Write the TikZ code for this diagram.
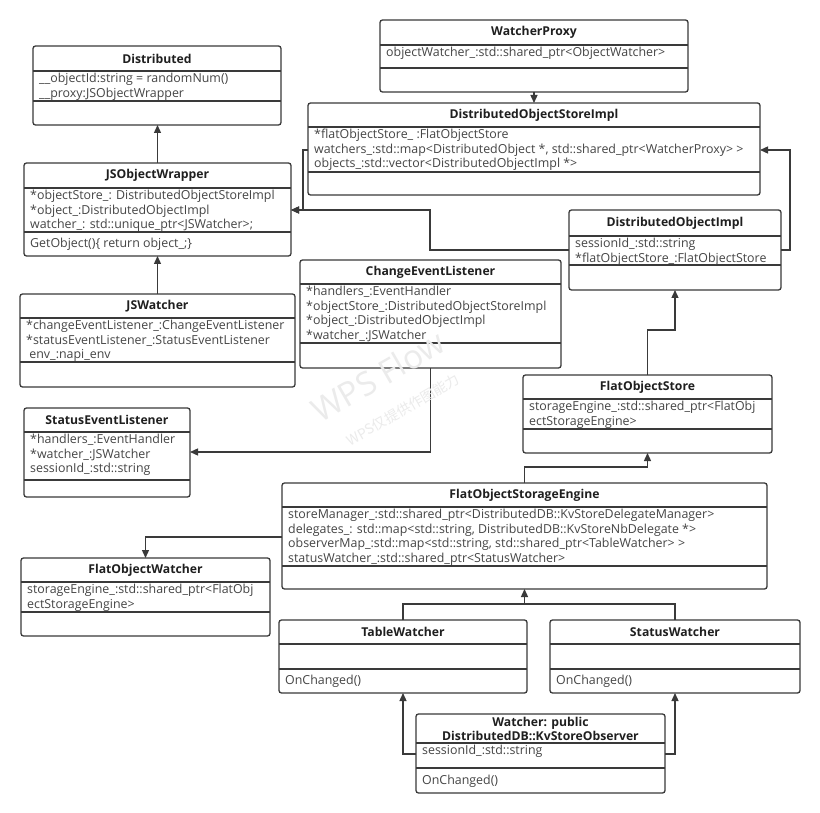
\documentclass[tikz,border=0pt]{standalone}
\usepackage{fontspec}
\setmainfont{Open Sans}
\newfontfamily\cjkf{Noto Sans CJK SC}
\usetikzlibrary{arrows.meta}
\definecolor{lc}{HTML}{3A3A3A}
\definecolor{tc}{HTML}{454545}
\tikzset{
 umlframe/.style={draw=lc, line width=1.3pt, rounded corners=2.5pt, fill=white, inner sep=0pt, outer sep=0pt},
 sepline/.style={draw=lc, line width=1.1pt},
 umltitle/.style={font=\fontsize{12.2}{14}\selectfont\bfseries, text=black!88, inner sep=0pt, align=center},
 umlattr/.style={font=\fontsize{12.4}{14.6}\selectfont, text=tc, inner sep=0pt, align=left},
 assoc/.style={draw=lc, line width=1.3pt, -{Triangle[length=8pt,width=7pt]}},
 link/.style={draw=lc, line width=1.3pt},
 wmark/.style={text=gray!16, inner sep=0pt},
}
% #1 name #2 left #3 top #4 right #5 bottom #6 title line #7 sep line #8 title #9 attributes
\newcommand\umlbox[9]{%
 \node[umlframe, minimum width={#4-#2}, minimum height={#5-#3}, anchor=north west] (#1) at (#2,#3) {};
 \draw[sepline] (#2,#6) -- (#4,#6);
 \draw[sepline] (#2,#7) -- (#4,#7);
 \node[umltitle] (#1-t) at ({(#2+#4)/2},{(#3+#6)/2}) {#8};
 \node[umlattr, anchor=north west] (#1-a) at (#2+6,#6+2) {#9};
}
\newcommand\umlmeth[4]{%
 \node[umlattr, anchor=west] (#1-m) at (#2+6,#3) {#4};
}
\begin{document}
\begin{tikzpicture}[x=1pt,y=-1pt]
\useasboundingbox (0,0) rectangle (820,813);
\fill[white] (0,0) rectangle (820,813);

\umlbox{dist}{33}{46}{281}{125}{71}{101}{Distributed}{\_\_objectId:string = randomNum()\\\_\_proxy:JSObjectWrapper}
\umlbox{wp}{380}{20}{688}{92}{45}{68}{WatcherProxy}{objectWatcher\_:std::shared\_ptr<ObjectWatcher>}
\umlbox{dosi}{308}{103}{760}{195}{127}{172}{DistributedObjectStoreImpl}{*flatObjectStore\_ :FlatObjectStore\\watchers\_:std::map<DistributedObject *, std::shared\_ptr<WatcherProxy> >\\objects\_:std::vector<DistributedObjectImpl *>}
\umlbox{jsow}{24}{163}{291}{256}{188}{232}{JSObjectWrapper}{*objectStore\_: DistributedObjectStoreImpl\\*object\_:DistributedObjectImpl\\watcher\_: std::unique\_ptr<JSWatcher>;}
\umlmeth{jsow}{24}{244}{GetObject()\{ return object\_;\}}
\umlbox{doi}{569}{210}{781}{290}{236}{265}{DistributedObjectImpl}{sessionId\_:std::string\\*flatObjectStore\_:FlatObjectStore}
\umlbox{cel}{300}{260}{561}{368}{284}{343}{ChangeEventListener}{*handlers\_:EventHandler\\*objectStore\_:DistributedObjectStoreImpl\\*object\_:DistributedObjectImpl\\*watcher\_:JSWatcher}
\umlbox{jsw}{20}{294}{295}{387}{318}{362}{JSWatcher}{*changeEventListener\_:ChangeEventListener\\*statusEventListener\_:StatusEventListener\\\ env\_:napi\_env}
\umlbox{sel}{24}{408}{190}{497}{432}{480}{StatusEventListener}{*handlers\_:EventHandler\\*watcher\_:JSWatcher\\sessionId\_:std::string}
\umlbox{fos}{523}{375}{772}{453}{399}{429}{FlatObjectStore}{storageEngine\_:std::shared\_ptr<FlatObj\\ectStorageEngine>}
\umlbox{fose}{282}{483}{767}{589}{507}{566}{FlatObjectStorageEngine}{storeManager\_:std::shared\_ptr<DistributedDB::KvStoreDelegateManager>\\delegates\_: std::map<std::string, DistributedDB::KvStoreNbDelegate *>\\observerMap\_:std::map<std::string, std::shared\_ptr<TableWatcher> >\\statusWatcher\_:std::shared\_ptr<StatusWatcher>}
\umlbox{fow}{21}{558}{270}{636}{582}{612}{FlatObjectWatcher}{storageEngine\_:std::shared\_ptr<FlatObj\\ectStorageEngine>}
\umlbox{tw}{279}{620}{527}{693}{644}{669}{TableWatcher}{}
\umlmeth{tw}{279}{681}{OnChanged()}
\umlbox{sw}{550}{620}{800}{693}{644}{669}{StatusWatcher}{}
\umlmeth{sw}{550}{681}{OnChanged()}
\umlbox{w}{416}{714}{665}{793}{743}{768}{Watcher: public\\DistributedDB::KvStoreObserver}{sessionId\_:std::string}
\umlmeth{w}{416}{781}{OnChanged()}

% coordinates
\coordinate (c1) at (303,150);
\coordinate (c2) at (303,210);
\coordinate (c3) at (430,250);
\coordinate (c4) at (430,210);
\coordinate (c5) at (790,250);
\coordinate (c6) at (790,150);
\coordinate (c7) at (647.5,330);
\coordinate (c8) at (675,330);
\coordinate (c9) at (524.5,467);
\coordinate (c10) at (647.5,467);
\coordinate (c11) at (430.5,452);
\coordinate (c12) at (145.5,537);
\coordinate (c13) at (403,604);
\coordinate (c14) at (524.5,604);
\coordinate (c15) at (675,604);
\coordinate (c16) at (403,754);
\coordinate (c17) at (675,754);

% connectors
\draw[assoc] (jsow.north) -- (jsow.north |- dist.south);
\draw[assoc] (jsw.north) -- (jsw.north |- jsow.south);
\draw[assoc] (wp.south) -- (dosi.north);
\draw[assoc] (dosi.west |- c1) -- (c1) -- (c2) -- (jsow.east |- c2);
\draw[assoc] (doi.west |- c3) -- (c3) -- (c4) -- (jsow.east |- c4);
\draw[assoc] (doi.east |- c5) -- (c5) -- (c6) -- (dosi.east |- c6);
\draw[assoc] (fos.north) -- (c7) -- (c8) -- (doi.south);
\draw[assoc] (fose.north) -- (c9) -- (c10) -- (fos.south);
\draw[assoc] (cel.south) -- (c11) -- (sel.east |- c11);
\draw[assoc] (fose.west |- c12) -- (c12) -- (fow.north);
\draw[assoc] (tw.north) -- (c13) -- (c14) -- (fose.south);
\draw[link] (sw.north) -- (c15) -- (c14);
\draw[assoc] (w.west |- c16) -- (c16) -- (tw.south);
\draw[assoc] (w.east |- c17) -- (c17) -- (sw.south);

% watermark
\node[wmark, rotate=30, font=\fontsize{33}{33}\selectfont] (wm1) at (378,376) {WPS Flow};
\node[wmark, rotate=30, font=\cjkf\fontsize{14}{14}\selectfont] (wm2) at (403,410) {WPS仅提供作图能力};
\end{tikzpicture}
\end{document}
